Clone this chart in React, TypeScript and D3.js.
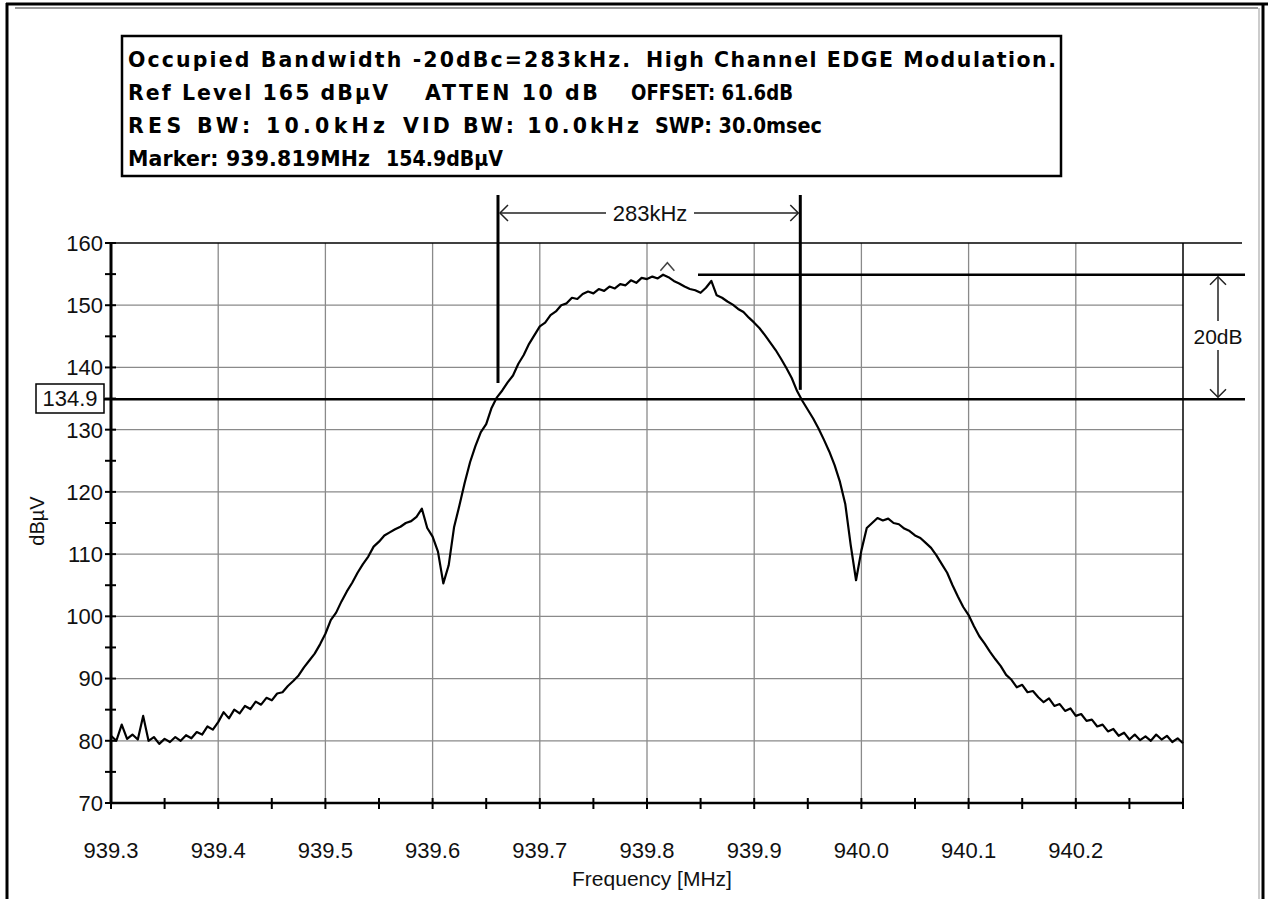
import React, { useLayoutEffect, useRef } from "react";
import * as d3 from "d3";

// ---------- DATA ----------
const X_TICKS = [939.3, 939.4, 939.5, 939.6, 939.7, 939.8, 939.9, 940.0, 940.1, 940.2];
const X_TICK_LABELS = ["939.3", "939.4", "939.5", "939.6", "939.7", "939.8", "939.9", "940.0", "940.1", "940.2"];
const Y_TICKS = [70, 80, 90, 100, 110, 120, 130, 140, 150, 160];
const SWEEP_START = 939.3;
const SWEEP_STEP = 0.005;
// trace level (dBµV), one value per sweep step
const LEVELS = [
  80.8, 80.0, 82.6, 80.3, 81.0, 80.2, 84.0, 80.0, 80.6, 79.5,
  80.3, 79.8, 80.6, 80.0, 80.9, 80.4, 81.4, 81.0, 82.3, 81.8,
  83.0, 84.6, 83.6, 85.0, 84.4, 85.6, 85.1, 86.3, 85.8, 86.9,
  86.5, 87.6, 87.8, 88.8, 89.6, 90.5, 91.8, 92.9, 94.0, 95.5,
  97.2, 99.4, 100.6, 102.4, 104.0, 105.4, 107.0, 108.4, 109.6, 111.2,
  112.0, 113.0, 113.5, 114.0, 114.4, 115.0, 115.3, 116.0, 117.3, 114.2,
  112.8, 110.4, 105.3, 108.2, 114.3, 117.8, 121.5, 124.8, 127.4, 129.6,
  130.9, 133.5, 135.2, 136.3, 137.6, 138.7, 140.6, 142.0, 143.8, 145.2,
  146.6, 147.2, 148.4, 149.0, 150.0, 150.3, 151.2, 151.0, 151.8, 152.2,
  151.9, 152.6, 152.3, 153.0, 152.7, 153.4, 153.2, 154.0, 153.6, 154.4,
  154.2, 154.6, 154.3, 154.9, 154.5, 153.9, 153.5, 153.0, 152.6, 152.4,
  152.0, 152.8, 153.9, 151.6, 151.2, 150.6, 150.1, 149.4, 148.9, 148.0,
  147.2, 146.3, 145.2, 144.0, 142.8, 141.4, 139.9, 138.3, 136.2, 134.6,
  133.2, 131.8, 130.2, 128.4, 126.5, 124.3, 121.6, 118.0, 111.5, 105.8,
  110.6, 114.2, 115.0, 115.8, 115.4, 115.7, 115.0, 114.8, 114.1, 113.7,
  113.0, 112.6, 111.8, 111.0, 109.8, 108.4, 107.0, 105.0, 103.2, 101.5,
  100.2, 98.4, 96.8, 95.6, 94.3, 93.1, 92.0, 90.6, 89.8, 88.6,
  89.0, 87.8, 88.0, 87.0, 86.2, 86.8, 85.6, 85.9, 84.8, 85.2,
  84.0, 84.3, 83.2, 83.4, 82.3, 82.6, 81.5, 81.9, 80.8, 81.3,
  80.2, 81.0, 80.1, 80.7, 80.0, 81.0, 80.2, 80.8, 79.8, 80.4,
  79.6,
];
const MARKER_FREQ = 939.819;
const MARKER_LEVEL = 154.9;
const REF_LEVEL = 134.9; // -20 dBc line
const OBW_LOW = 939.661;
const OBW_HIGH = 939.943;
const OBW_LOW_END = 137.5;
const OBW_HIGH_END = 136.4;

const HEADER_LINES = [
  [["Occupied Bandwidth -20dBc=283kHz.", 128, 502], ["High Channel EDGE Modulation.", 646, 410]],
  [["Ref Level 165 dBµV", 128, 260], ["ATTEN 10 dB", 425, 173], ["OFFSET: 61.6dB", 631, 162]],
  [["RES BW: 10.0kHz", 128, 257], ["VID BW: 10.0kHz", 403, 236], ["SWP: 30.0msec", 655, 167]],
  [["Marker: 939.819MHz", 128, 242], ["154.9dBµV", 386, 117]],
] as [string, number, number][][];

function FitText({ x, y, len, children }: { x: number; y: number; len: number; children: string }) {
  const ref = useRef<SVGTextElement>(null);
  useLayoutEffect(() => {
    const el = ref.current;
    if (!el) return;
    const natural = el.getComputedTextLength();
    el.setAttribute("textLength", String(len));
    el.setAttribute("lengthAdjust", natural < len ? "spacing" : "spacingAndGlyphs");
  }, [len]);
  return (
    <text ref={ref} x={x} y={y} fontFamily="'DejaVu Sans', Verdana, sans-serif" fontWeight="bold" fontSize={20.5} fill="#000">
      {children}
    </text>
  );
}

export default function App() {
  const W = 1268, H = 899;
  const x = d3.scaleLinear().domain([939.3, 940.3]).range([111, 1183]);
  const y = d3.scaleLinear().domain([70, 160]).range([803, 243]);
  const freqs = LEVELS.map((_, i) => SWEEP_START + SWEEP_STEP * i);
  const line = d3.line<number>().x((_, i) => x(freqs[i])).y((v) => y(v));
  const minorX = d3.range(0, 21).map((i) => 939.3 + i * 0.05);
  const minorY = d3.range(0, 19).map((i) => 70 + i * 5);
  const axisFont = "'Liberation Sans', Arial, sans-serif";
  const xl = x(OBW_LOW), xh = x(OBW_HIGH);
  const yArrow = 213;
  const yMk = y(MARKER_LEVEL), yRef = y(REF_LEVEL);
  const xArr = 1218;
  const mx = x(MARKER_FREQ), my = y(MARKER_LEVEL) - 4;

  return (
    <svg width={W} height={H} style={{ position: "absolute", left: 0, top: 0, background: "#fff" }}>
      {/* outer frame */}
      <rect x={0} y={0} width={W} height={H} fill="#fff" />
      <line x1={6} x2={1268} y1={4} y2={4} stroke="#000" strokeWidth={3} />
      <line x1={7} x2={7} y1={3} y2={H} stroke="#000" strokeWidth={3} />
      <line x1={1263} x2={1263} y1={3} y2={H} stroke="#000" strokeWidth={3} />
      <line x1={15} x2={1258} y1={8} y2={8} stroke="#777" strokeWidth={1.5} />
      <line x1={1259} x2={1259} y1={8} y2={H} stroke="#999" strokeWidth={1} />

      {/* header box */}
      <rect x={122} y={36} width={939} height={140} fill="#fff" stroke="#000" strokeWidth={2.5} />
      {HEADER_LINES.map((segs, li) =>
        segs.map(([t, sx, len], si) => (
          <FitText key={`${li}-${si}`} x={sx} y={67 + li * 33} len={len}>{t}</FitText>
        ))
      )}

      {/* grid */}
      {X_TICKS.slice(1).map((v) => (
        <line key={`gx${v}`} x1={x(v)} x2={x(v)} y1={243} y2={803} stroke="#8a8a8a" strokeWidth={1.3} />
      ))}
      {Y_TICKS.slice(1, -1).map((v) => (
        <line key={`gy${v}`} x1={111} x2={1183} y1={y(v)} y2={y(v)} stroke="#8a8a8a" strokeWidth={1.3} />
      ))}
      {/* plot frame */}
      <line x1={111} x2={1242} y1={243} y2={243} stroke="#000" strokeWidth={1.5} />
      <line x1={1183} x2={1183} y1={243} y2={803} stroke="#000" strokeWidth={1.5} />
      <line x1={111} x2={1183} y1={803} y2={803} stroke="#000" strokeWidth={2.5} />
      <line x1={111} x2={111} y1={243} y2={803} stroke="#000" strokeWidth={3} />

      {/* ticks */}
      {minorY.map((v) => (
        <line key={`ty${v}`} x1={105} x2={116} y1={y(v)} y2={y(v)} stroke="#000" strokeWidth={2} />
      ))}
      {minorX.map((v) => (
        <line key={`tx${v}`} x1={x(v)} x2={x(v)} y1={798} y2={809} stroke="#000" strokeWidth={2} />
      ))}

      {/* tick labels */}
      {Y_TICKS.map((v) => (
        <text key={`ly${v}`} x={103} y={y(v)} dy="0.36em" textAnchor="end" fontFamily={axisFont} fontSize={22} fill="#111">{v}</text>
      ))}
      {X_TICKS.map((v, i) => (
        <text key={`lx${v}`} x={x(v)} y={850} dy="0.36em" textAnchor="middle" fontFamily={axisFont} fontSize={22} fill="#111">{X_TICK_LABELS[i]}</text>
      ))}
      <text x={652} y={886} textAnchor="middle" fontFamily={axisFont} fontSize={21} fill="#111">Frequency [MHz]</text>
      <text transform={`translate(44,521) rotate(-90)`} textAnchor="middle" fontFamily={axisFont} fontSize={20} fill="#111">dBµV</text>

      {/* reference level lines */}
      <line x1={104} x2={1245} y1={yRef} y2={yRef} stroke="#000" strokeWidth={2.5} />
      <line x1={698} x2={1245} y1={yMk} y2={yMk} stroke="#000" strokeWidth={2.5} />
      <rect x={36} y={384} width={68} height={29} fill="#fff" stroke="#000" strokeWidth={1.5} />
      <text x={70} y={398.5} dy="0.36em" textAnchor="middle" fontFamily={axisFont} fontSize={22} fill="#111">134.9</text>

      {/* trace */}
      <path d={line(LEVELS) || ""} fill="none" stroke="#000" strokeWidth={2.2} strokeLinejoin="round" />

      {/* marker caret */}
      <path d={`M${mx - 7},${my} L${mx},${my - 8} L${mx + 7},${my}`} fill="none" stroke="#444" strokeWidth={1.5} />

      {/* occupied bandwidth lines */}
      <line x1={xl} x2={xl} y1={195} y2={y(OBW_LOW_END)} stroke="#000" strokeWidth={3} />
      <line x1={xh} x2={xh} y1={195} y2={y(OBW_HIGH_END)} stroke="#000" strokeWidth={3} />
      <line x1={xl + 2} x2={606} y1={yArrow} y2={yArrow} stroke="#222" strokeWidth={1.5} />
      <line x1={694} x2={xh - 2} y1={yArrow} y2={yArrow} stroke="#222" strokeWidth={1.5} />
      <path d={`M${xl + 10},${yArrow - 8} L${xl + 2},${yArrow} L${xl + 10},${yArrow + 8}`} fill="none" stroke="#222" strokeWidth={1.5} />
      <path d={`M${xh - 10},${yArrow - 8} L${xh - 2},${yArrow} L${xh - 10},${yArrow + 8}`} fill="none" stroke="#222" strokeWidth={1.5} />
      <text x={650} y={yArrow} dy="0.36em" textAnchor="middle" fontFamily={axisFont} fontSize={22} fill="#111">283kHz</text>

      {/* 20 dB arrow */}
      <line x1={xArr} x2={xArr} y1={yMk + 2} y2={321} stroke="#222" strokeWidth={1.5} />
      <line x1={xArr} x2={xArr} y1={350} y2={yRef - 2} stroke="#222" strokeWidth={1.5} />
      <path d={`M${xArr - 8},${yMk + 10} L${xArr},${yMk + 2} L${xArr + 8},${yMk + 10}`} fill="none" stroke="#222" strokeWidth={1.5} />
      <path d={`M${xArr - 8},${yRef - 10} L${xArr},${yRef - 2} L${xArr + 8},${yRef - 10}`} fill="none" stroke="#222" strokeWidth={1.5} />
      <text x={xArr} y={336} dy="0.36em" textAnchor="middle" fontFamily={axisFont} fontSize={21} fill="#111">20dB</text>
    </svg>
  );
}
